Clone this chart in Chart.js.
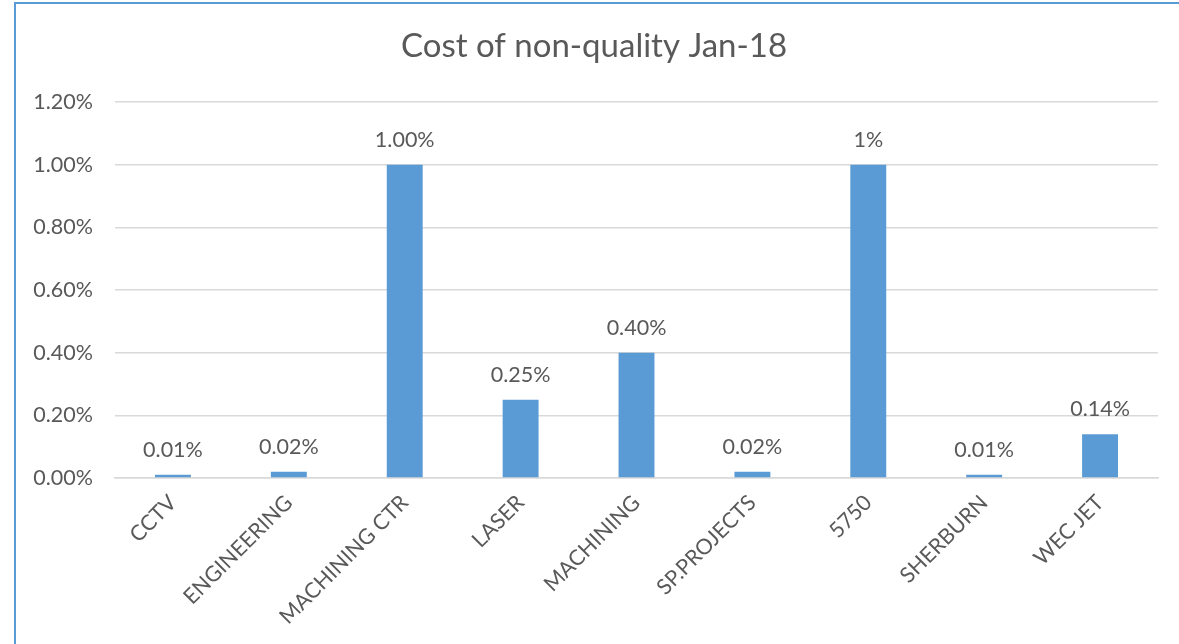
<!DOCTYPE html>
<html>
<head>
<meta charset="utf-8">
<script src="https://cdn.jsdelivr.net/npm/chart.js@4.4.1/dist/chart.umd.min.js"></script>
<style>
html,body{margin:0;padding:0;background:#fff;}
#wrap{position:relative;width:1179px;height:644px;}
#frame{position:absolute;left:14px;top:2px;right:-10px;bottom:-10px;border-left:2px solid #5b9bd5;border-top:2px solid #5b9bd5;pointer-events:none;}
canvas{position:absolute;left:0;top:0;}
</style>
</head>
<body>
<div id="wrap"><canvas id="c" width="1179" height="644"></canvas><div id="frame"></div></div>
<script>
const categories = ["CCTV","ENGINEERING","MACHINING CTR","LASER","MACHINING","SP.PROJECTS","5750","SHERBURN","WEC JET"];
const values = [0.01,0.02,1.00,0.25,0.40,0.02,1.00,0.01,0.14];
const valueLabels = ["0.01%","0.02%","1.00%","0.25%","0.40%","0.02%","1%","0.01%","0.14%"];
const yTicks = [0,0.2,0.4,0.6,0.8,1.0,1.2];

const FONT = "Lato, 'Open Sans', sans-serif";
const TXT = "#595959";

const dataLabelPlugin = {
  id: 'dataLabels',
  afterDatasetsDraw(chart){
    const ctx = chart.ctx;
    const meta = chart.getDatasetMeta(0);
    ctx.save();
    ctx.font = "21.5px " + FONT;
    ctx.fillStyle = TXT;
    ctx.textAlign = 'center';
    ctx.textBaseline = 'bottom';
    meta.data.forEach((bar,i)=>{
      ctx.fillText(valueLabels[i], bar.x, bar.y - 14);
    });
    ctx.restore();
  }
};

new Chart(document.getElementById('c'), {
  type: 'bar',
  data: {
    labels: categories,
    datasets: [{
      data: values,
      backgroundColor: '#5b9bd5',
      borderWidth: 0,
      categoryPercentage: 1.0,
      barPercentage: 0.31
    }]
  },
  options: {
    responsive: false,
    animation: false,
    devicePixelRatio: 1,
    layout: { padding: { top: 27, left: 30, right: 21, bottom: 0 } },
    plugins: {
      legend: { display: false },
      tooltip: { enabled: false },
      title: {
        display: true,
        text: 'Cost of non-quality Jan-18',
        color: TXT,
        font: { family: FONT, size: 33, weight: 'normal' },
        padding: { top: 0, bottom: 35.4 }
      }
    },
    scales: {
      y: {
        min: 0, max: 1.2,
        afterBuildTicks(scale){ scale.ticks = yTicks.map(v=>({value:v})); },
        ticks: {
          color: TXT,
          font: { family: FONT, size: 21.5 },
          padding: 22,
          callback: v => v.toFixed(2) + '%'
        },
        grid: { color: '#d9d9d9', lineWidth: 1.5, drawTicks: false },
        border: { display: false },
        afterFit(scale){ scale.width = 85; }
      },
      x: {
        ticks: {
          color: TXT,
          font: { family: FONT, size: 21.5 },
          maxRotation: 45, minRotation: 45,
          padding: 12
        },
        grid: { display: false, drawTicks: false },
        border: { display: true, color: '#d9d9d9', width: 1.5 },
        afterFit(scale){ scale.height = 166; }
      }
    }
  },
  plugins: [dataLabelPlugin]
});
</script>
</body>
</html>
